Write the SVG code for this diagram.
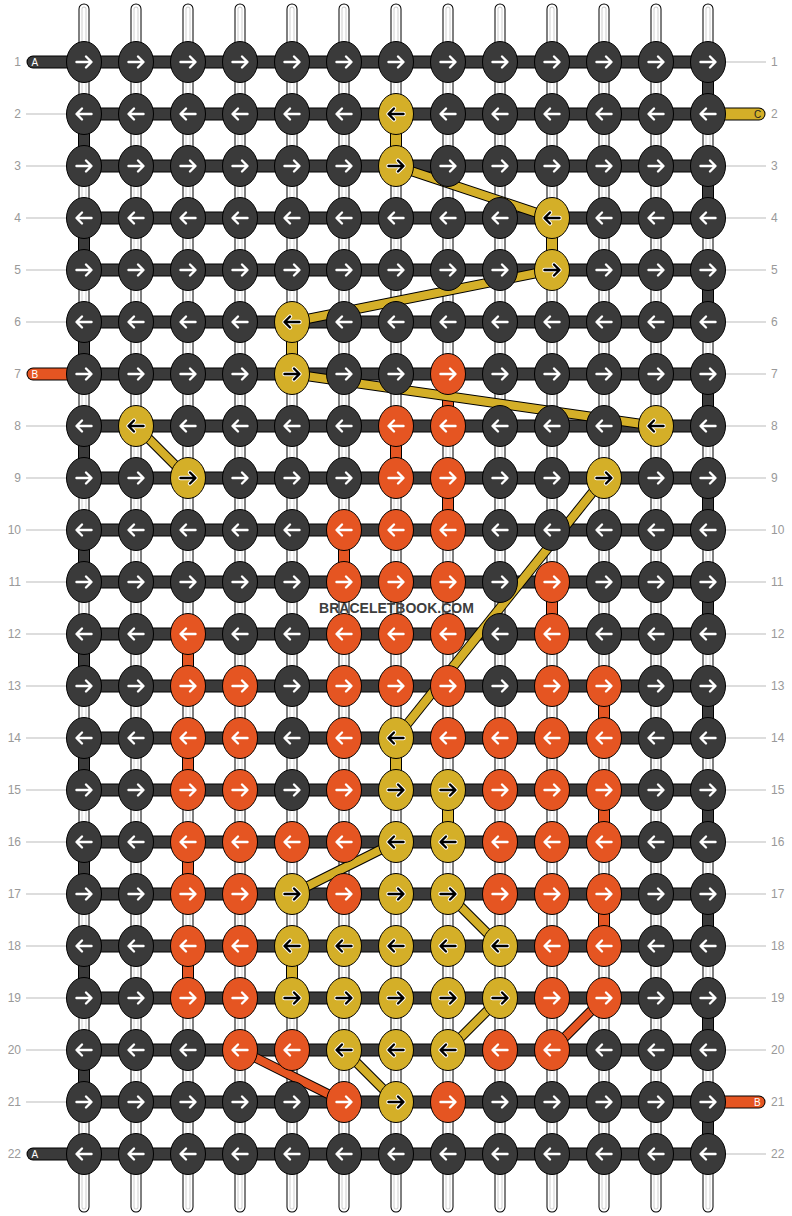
<svg xmlns="http://www.w3.org/2000/svg" xmlns:xlink="http://www.w3.org/1999/xlink" width="792" height="1216" viewBox="0 0 792 1216">
<style>
.lbl{font-family:"Liberation Sans",Arial,sans-serif;font-size:12px;fill:#999}
.ll{stroke:#bbb;stroke-width:1;fill:none}
.to{stroke:#000;stroke-width:11;stroke-linecap:round;fill:none}
.tw{stroke:#fff;stroke-width:9;stroke-linecap:round;fill:none}
.tg{stroke:#cfcfcf;stroke-width:5;stroke-linecap:round;fill:none}
.tc{stroke:#fff;stroke-width:3;stroke-linecap:round;fill:none}
.bo{stroke:#000;stroke-width:13;fill:none}
.bd{stroke:#3a3a3a;stroke-width:11;fill:none}
.lo{stroke:#000;stroke-width:13;stroke-linecap:round;fill:none}
.ld{stroke:#3a3a3a;stroke-width:11;stroke-linecap:round;fill:none}
.ly{stroke:#d4af28;stroke-width:11;stroke-linecap:round;fill:none}
.lor{stroke:#e55522;stroke-width:11;stroke-linecap:round;fill:none}
.tt{font-family:"Liberation Sans",Arial,sans-serif;font-size:10px;fill:#fff}
.vo{stroke:#000;stroke-width:12;fill:none}
.vd{stroke:#3a3a3a;stroke-width:10;fill:none}
.vy{stroke:#d4af28;stroke-width:10;fill:none}
.vr{stroke:#e55522;stroke-width:10;fill:none}
.do{stroke:#000;stroke-width:10;fill:none}
.dy{stroke:#d4af28;stroke-width:8;fill:none}
.dr{stroke:#e55522;stroke-width:8;fill:none}
.kd{fill:#3a3a3a;stroke:#000;stroke-width:1}
.ky{fill:#d4af28;stroke:#000;stroke-width:1}
.ko{fill:#e55522;stroke:#000;stroke-width:1}
.aw{fill:none;stroke:#fff;stroke-width:2.4;stroke-linecap:round;stroke-linejoin:round}
.ah{fill:none;stroke:#fff;stroke-width:4.4;stroke-linecap:round;stroke-linejoin:round}
.ab{fill:none;stroke:#000;stroke-width:2.4;stroke-linecap:round;stroke-linejoin:round}
.wm{font-family:"Liberation Sans",Arial,sans-serif;font-size:14px;font-weight:bold;fill:#3d3d3d}
</style>
<defs>
<path id="pR" d="M-7.5 0H7M2 -5.5L7.5 0L2 5.5"/>
<path id="pL" d="M7.5 0H-7M-2 -5.5L-7.5 0L-2 5.5"/>
<g id="dR"><ellipse class="kd" rx="17.5" ry="20.5"/><use href="#pR" class="aw"/></g>
<g id="dL"><ellipse class="kd" rx="17.5" ry="20.5"/><use href="#pL" class="aw"/></g>
<g id="oR"><ellipse class="ko" rx="17.5" ry="20.5"/><use href="#pR" class="aw"/></g>
<g id="oL"><ellipse class="ko" rx="17.5" ry="20.5"/><use href="#pL" class="aw"/></g>
<g id="yR"><ellipse class="ky" rx="17.5" ry="20.5"/><use href="#pR" class="ah"/><use href="#pR" class="ab"/></g>
<g id="yL"><ellipse class="ky" rx="17.5" ry="20.5"/><use href="#pL" class="ah"/><use href="#pL" class="ab"/></g>
</defs>
<rect width="792" height="1216" fill="#fff"/>
<g id="labels">
<path class="ll" d="M26 114H66M26 166H66M26 218H66M26 270H66M26 322H66M26 426H66M26 478H66M26 530H66M26 582H66M26 634H66M26 686H66M26 738H66M26 790H66M26 842H66M26 894H66M26 946H66M26 998H66M26 1050H66M26 1102H66"/>
<path class="ll" d="M726 62H766M726 166H766M726 218H766M726 270H766M726 322H766M726 374H766M726 426H766M726 478H766M726 530H766M726 582H766M726 634H766M726 686H766M726 738H766M726 790H766M726 842H766M726 894H766M726 946H766M726 998H766M726 1050H766M726 1154H766"/>
<g class="lbl" text-anchor="end">
<text x="21" y="66">1</text><text x="21" y="118">2</text><text x="21" y="170">3</text><text x="21" y="222">4</text><text x="21" y="274">5</text><text x="21" y="326">6</text><text x="21" y="378">7</text><text x="21" y="430">8</text><text x="21" y="482">9</text><text x="21" y="534">10</text><text x="21" y="586">11</text><text x="21" y="638">12</text><text x="21" y="690">13</text><text x="21" y="742">14</text><text x="21" y="794">15</text><text x="21" y="846">16</text><text x="21" y="898">17</text><text x="21" y="950">18</text><text x="21" y="1002">19</text><text x="21" y="1054">20</text><text x="21" y="1106">21</text><text x="21" y="1158">22</text>
</g>
<g class="lbl">
<text x="771" y="66">1</text><text x="771" y="118">2</text><text x="771" y="170">3</text><text x="771" y="222">4</text><text x="771" y="274">5</text><text x="771" y="326">6</text><text x="771" y="378">7</text><text x="771" y="430">8</text><text x="771" y="482">9</text><text x="771" y="534">10</text><text x="771" y="586">11</text><text x="771" y="638">12</text><text x="771" y="690">13</text><text x="771" y="742">14</text><text x="771" y="794">15</text><text x="771" y="846">16</text><text x="771" y="898">17</text><text x="771" y="950">18</text><text x="771" y="1002">19</text><text x="771" y="1054">20</text><text x="771" y="1106">21</text><text x="771" y="1158">22</text>
</g>
</g>
<g id="strings">
<path class="to" d="M84 9V1207M136 9V1207M188 9V1207M240 9V1207M292 9V1207M344 9V1207M396 9V1207M448 9V1207M500 9V1207M552 9V1207M604 9V1207M656 9V1207M708 9V1207"/>
<path class="tw" d="M84 9V1207M136 9V1207M188 9V1207M240 9V1207M292 9V1207M344 9V1207M396 9V1207M448 9V1207M500 9V1207M552 9V1207M604 9V1207M656 9V1207M708 9V1207"/>
<path class="tg" d="M84 9V1207M136 9V1207M188 9V1207M240 9V1207M292 9V1207M344 9V1207M396 9V1207M448 9V1207M500 9V1207M552 9V1207M604 9V1207M656 9V1207M708 9V1207"/>
<path class="tc" d="M84 9V1207M136 9V1207M188 9V1207M240 9V1207M292 9V1207M344 9V1207M396 9V1207M448 9V1207M500 9V1207M552 9V1207M604 9V1207M656 9V1207M708 9V1207"/>
</g>
<g id="rows">
<path class="bo" d="M84 62H708M84 114H708M84 166H708M84 218H708M84 270H708M84 322H708M84 374H708M84 426H708M84 478H708M84 530H708M84 582H708M84 634H708M84 686H708M84 738H708M84 790H708M84 842H708M84 894H708M84 946H708M84 998H708M84 1050H708M84 1102H708M84 1154H708"/>
<path class="bd" d="M84 62H708M84 114H708M84 166H708M84 218H708M84 270H708M84 322H708M84 374H708M84 426H708M84 478H708M84 530H708M84 582H708M84 634H708M84 686H708M84 738H708M84 790H708M84 842H708M84 894H708M84 946H708M84 998H708M84 1050H708M84 1102H708M84 1154H708"/>
</g>
<g id="tails">
<g id="tailA1"><path class="lo" d="M33 62H84"/><path class="ld" d="M33 62H84"/><text class="tt" x="31.5" y="65.5">A</text></g>
<g id="tailA22"><path class="lo" d="M33 1154H84"/><path class="ld" d="M33 1154H84"/><text class="tt" x="31.5" y="1157.5">A</text></g>
<g id="tailB7"><path class="lo" d="M33 374H84"/><path class="lor" d="M33 374H84"/><text class="tt" x="31.5" y="377.5">B</text></g>
<g id="tailC2"><path class="lo" d="M708 114H759"/><path class="ly" d="M708 114H759"/><text class="tt" x="754" y="117.5" style="fill:#222">C</text></g>
<g id="tailB21"><path class="lo" d="M708 1102H759"/><path class="lor" d="M708 1102H759"/><text class="tt" x="754" y="1105.5">B</text></g>
</g>
<g id="connectors">
<path class="vo" d="M708 62V114M708 166V218M708 270V322M708 374V426M708 478V530M708 582V634M708 686V738M708 790V842M708 894V946M708 998V1050M708 1102V1154M84 114V166M84 218V270M84 322V374M84 426V478M84 530V582M84 634V686M84 738V790M84 842V894M84 946V998M84 1050V1102"/>
<path class="vd" d="M708 62V114M708 166V218M708 270V322M708 374V426M708 478V530M708 582V634M708 686V738M708 790V842M708 894V946M708 998V1050M708 1102V1154M84 114V166M84 218V270M84 322V374M84 426V478M84 530V582M84 634V686M84 738V790M84 842V894M84 946V998M84 1050V1102"/>
<path class="vo" d="M396 114V166M552 218V270M292 322V374M396 738V790M448 790V842M292 946V998"/>
<path class="vy" d="M396 114V166M552 218V270M292 322V374M396 738V790M448 790V842M292 946V998"/>
<path class="vo" d="M448 374V426M396 426V478M448 478V530M344 530V582M552 582V634M188 634V686M604 686V738M188 738V790M604 790V842M188 842V894M604 894V946M188 946V998"/>
<path class="vr" d="M448 374V426M396 426V478M448 478V530M344 530V582M552 582V634M188 634V686M604 686V738M188 738V790M604 790V842M188 842V894M604 894V946M188 946V998"/>
<g><path class="do" d="M396 166L552 218"/><path class="dy" d="M396 166L552 218"/></g>
<g><path class="do" d="M552 270L292 322"/><path class="dy" d="M552 270L292 322"/></g>
<g><path class="do" d="M292 374L656 426"/><path class="dy" d="M292 374L656 426"/></g>
<g><path class="do" d="M136 426L188 478"/><path class="dy" d="M136 426L188 478"/></g>
<g><path class="do" d="M604 478L396 738"/><path class="dy" d="M604 478L396 738"/></g>
<g><path class="do" d="M396 842L292 894"/><path class="dy" d="M396 842L292 894"/></g>
<g><path class="do" d="M448 894L500 946"/><path class="dy" d="M448 894L500 946"/></g>
<g><path class="do" d="M500 998L448 1050"/><path class="dy" d="M500 998L448 1050"/></g>
<g><path class="do" d="M344 1050L396 1102"/><path class="dy" d="M344 1050L396 1102"/></g>
<g><path class="do" d="M604 998L552 1050"/><path class="dr" d="M604 998L552 1050"/></g>
<g><path class="do" d="M240 1050L344 1102"/><path class="dr" d="M240 1050L344 1102"/></g>
</g>
<g id="knots">
<g id="k1-1"><use href="#dR" x="84" y="62"/></g><g id="k1-2"><use href="#dR" x="136" y="62"/></g><g id="k1-3"><use href="#dR" x="188" y="62"/></g><g id="k1-4"><use href="#dR" x="240" y="62"/></g><g id="k1-5"><use href="#dR" x="292" y="62"/></g><g id="k1-6"><use href="#dR" x="344" y="62"/></g><g id="k1-7"><use href="#dR" x="396" y="62"/></g><g id="k1-8"><use href="#dR" x="448" y="62"/></g><g id="k1-9"><use href="#dR" x="500" y="62"/></g><g id="k1-10"><use href="#dR" x="552" y="62"/></g><g id="k1-11"><use href="#dR" x="604" y="62"/></g><g id="k1-12"><use href="#dR" x="656" y="62"/></g><g id="k1-13"><use href="#dR" x="708" y="62"/></g>
<g id="k2-1"><use href="#dL" x="84" y="114"/></g><g id="k2-2"><use href="#dL" x="136" y="114"/></g><g id="k2-3"><use href="#dL" x="188" y="114"/></g><g id="k2-4"><use href="#dL" x="240" y="114"/></g><g id="k2-5"><use href="#dL" x="292" y="114"/></g><g id="k2-6"><use href="#dL" x="344" y="114"/></g><g id="k2-7"><use href="#yL" x="396" y="114"/></g><g id="k2-8"><use href="#dL" x="448" y="114"/></g><g id="k2-9"><use href="#dL" x="500" y="114"/></g><g id="k2-10"><use href="#dL" x="552" y="114"/></g><g id="k2-11"><use href="#dL" x="604" y="114"/></g><g id="k2-12"><use href="#dL" x="656" y="114"/></g><g id="k2-13"><use href="#dL" x="708" y="114"/></g>
<g id="k3-1"><use href="#dR" x="84" y="166"/></g><g id="k3-2"><use href="#dR" x="136" y="166"/></g><g id="k3-3"><use href="#dR" x="188" y="166"/></g><g id="k3-4"><use href="#dR" x="240" y="166"/></g><g id="k3-5"><use href="#dR" x="292" y="166"/></g><g id="k3-6"><use href="#dR" x="344" y="166"/></g><g id="k3-7"><use href="#yR" x="396" y="166"/></g><g id="k3-8"><use href="#dR" x="448" y="166"/></g><g id="k3-9"><use href="#dR" x="500" y="166"/></g><g id="k3-10"><use href="#dR" x="552" y="166"/></g><g id="k3-11"><use href="#dR" x="604" y="166"/></g><g id="k3-12"><use href="#dR" x="656" y="166"/></g><g id="k3-13"><use href="#dR" x="708" y="166"/></g>
<g id="k4-1"><use href="#dL" x="84" y="218"/></g><g id="k4-2"><use href="#dL" x="136" y="218"/></g><g id="k4-3"><use href="#dL" x="188" y="218"/></g><g id="k4-4"><use href="#dL" x="240" y="218"/></g><g id="k4-5"><use href="#dL" x="292" y="218"/></g><g id="k4-6"><use href="#dL" x="344" y="218"/></g><g id="k4-7"><use href="#dL" x="396" y="218"/></g><g id="k4-8"><use href="#dL" x="448" y="218"/></g><g id="k4-9"><use href="#dL" x="500" y="218"/></g><g id="k4-10"><use href="#yL" x="552" y="218"/></g><g id="k4-11"><use href="#dL" x="604" y="218"/></g><g id="k4-12"><use href="#dL" x="656" y="218"/></g><g id="k4-13"><use href="#dL" x="708" y="218"/></g>
<g id="k5-1"><use href="#dR" x="84" y="270"/></g><g id="k5-2"><use href="#dR" x="136" y="270"/></g><g id="k5-3"><use href="#dR" x="188" y="270"/></g><g id="k5-4"><use href="#dR" x="240" y="270"/></g><g id="k5-5"><use href="#dR" x="292" y="270"/></g><g id="k5-6"><use href="#dR" x="344" y="270"/></g><g id="k5-7"><use href="#dR" x="396" y="270"/></g><g id="k5-8"><use href="#dR" x="448" y="270"/></g><g id="k5-9"><use href="#dR" x="500" y="270"/></g><g id="k5-10"><use href="#yR" x="552" y="270"/></g><g id="k5-11"><use href="#dR" x="604" y="270"/></g><g id="k5-12"><use href="#dR" x="656" y="270"/></g><g id="k5-13"><use href="#dR" x="708" y="270"/></g>
<g id="k6-1"><use href="#dL" x="84" y="322"/></g><g id="k6-2"><use href="#dL" x="136" y="322"/></g><g id="k6-3"><use href="#dL" x="188" y="322"/></g><g id="k6-4"><use href="#dL" x="240" y="322"/></g><g id="k6-5"><use href="#yL" x="292" y="322"/></g><g id="k6-6"><use href="#dL" x="344" y="322"/></g><g id="k6-7"><use href="#dL" x="396" y="322"/></g><g id="k6-8"><use href="#dL" x="448" y="322"/></g><g id="k6-9"><use href="#dL" x="500" y="322"/></g><g id="k6-10"><use href="#dL" x="552" y="322"/></g><g id="k6-11"><use href="#dL" x="604" y="322"/></g><g id="k6-12"><use href="#dL" x="656" y="322"/></g><g id="k6-13"><use href="#dL" x="708" y="322"/></g>
<g id="k7-1"><use href="#dR" x="84" y="374"/></g><g id="k7-2"><use href="#dR" x="136" y="374"/></g><g id="k7-3"><use href="#dR" x="188" y="374"/></g><g id="k7-4"><use href="#dR" x="240" y="374"/></g><g id="k7-5"><use href="#yR" x="292" y="374"/></g><g id="k7-6"><use href="#dR" x="344" y="374"/></g><g id="k7-7"><use href="#dR" x="396" y="374"/></g><g id="k7-8"><use href="#oR" x="448" y="374"/></g><g id="k7-9"><use href="#dR" x="500" y="374"/></g><g id="k7-10"><use href="#dR" x="552" y="374"/></g><g id="k7-11"><use href="#dR" x="604" y="374"/></g><g id="k7-12"><use href="#dR" x="656" y="374"/></g><g id="k7-13"><use href="#dR" x="708" y="374"/></g>
<g id="k8-1"><use href="#dL" x="84" y="426"/></g><g id="k8-2"><use href="#yL" x="136" y="426"/></g><g id="k8-3"><use href="#dL" x="188" y="426"/></g><g id="k8-4"><use href="#dL" x="240" y="426"/></g><g id="k8-5"><use href="#dL" x="292" y="426"/></g><g id="k8-6"><use href="#dL" x="344" y="426"/></g><g id="k8-7"><use href="#oL" x="396" y="426"/></g><g id="k8-8"><use href="#oL" x="448" y="426"/></g><g id="k8-9"><use href="#dL" x="500" y="426"/></g><g id="k8-10"><use href="#dL" x="552" y="426"/></g><g id="k8-11"><use href="#dL" x="604" y="426"/></g><g id="k8-12"><use href="#yL" x="656" y="426"/></g><g id="k8-13"><use href="#dL" x="708" y="426"/></g>
<g id="k9-1"><use href="#dR" x="84" y="478"/></g><g id="k9-2"><use href="#dR" x="136" y="478"/></g><g id="k9-3"><use href="#yR" x="188" y="478"/></g><g id="k9-4"><use href="#dR" x="240" y="478"/></g><g id="k9-5"><use href="#dR" x="292" y="478"/></g><g id="k9-6"><use href="#dR" x="344" y="478"/></g><g id="k9-7"><use href="#oR" x="396" y="478"/></g><g id="k9-8"><use href="#oR" x="448" y="478"/></g><g id="k9-9"><use href="#dR" x="500" y="478"/></g><g id="k9-10"><use href="#dR" x="552" y="478"/></g><g id="k9-11"><use href="#yR" x="604" y="478"/></g><g id="k9-12"><use href="#dR" x="656" y="478"/></g><g id="k9-13"><use href="#dR" x="708" y="478"/></g>
<g id="k10-1"><use href="#dL" x="84" y="530"/></g><g id="k10-2"><use href="#dL" x="136" y="530"/></g><g id="k10-3"><use href="#dL" x="188" y="530"/></g><g id="k10-4"><use href="#dL" x="240" y="530"/></g><g id="k10-5"><use href="#dL" x="292" y="530"/></g><g id="k10-6"><use href="#oL" x="344" y="530"/></g><g id="k10-7"><use href="#oL" x="396" y="530"/></g><g id="k10-8"><use href="#oL" x="448" y="530"/></g><g id="k10-9"><use href="#dL" x="500" y="530"/></g><g id="k10-10"><use href="#dL" x="552" y="530"/></g><g id="k10-11"><use href="#dL" x="604" y="530"/></g><g id="k10-12"><use href="#dL" x="656" y="530"/></g><g id="k10-13"><use href="#dL" x="708" y="530"/></g>
<g id="k11-1"><use href="#dR" x="84" y="582"/></g><g id="k11-2"><use href="#dR" x="136" y="582"/></g><g id="k11-3"><use href="#dR" x="188" y="582"/></g><g id="k11-4"><use href="#dR" x="240" y="582"/></g><g id="k11-5"><use href="#dR" x="292" y="582"/></g><g id="k11-6"><use href="#oR" x="344" y="582"/></g><g id="k11-7"><use href="#oR" x="396" y="582"/></g><g id="k11-8"><use href="#oR" x="448" y="582"/></g><g id="k11-9"><use href="#dR" x="500" y="582"/></g><g id="k11-10"><use href="#oR" x="552" y="582"/></g><g id="k11-11"><use href="#dR" x="604" y="582"/></g><g id="k11-12"><use href="#dR" x="656" y="582"/></g><g id="k11-13"><use href="#dR" x="708" y="582"/></g>
<g id="k12-1"><use href="#dL" x="84" y="634"/></g><g id="k12-2"><use href="#dL" x="136" y="634"/></g><g id="k12-3"><use href="#oL" x="188" y="634"/></g><g id="k12-4"><use href="#dL" x="240" y="634"/></g><g id="k12-5"><use href="#dL" x="292" y="634"/></g><g id="k12-6"><use href="#oL" x="344" y="634"/></g><g id="k12-7"><use href="#oL" x="396" y="634"/></g><g id="k12-8"><use href="#oL" x="448" y="634"/></g><g id="k12-9"><use href="#dL" x="500" y="634"/></g><g id="k12-10"><use href="#oL" x="552" y="634"/></g><g id="k12-11"><use href="#dL" x="604" y="634"/></g><g id="k12-12"><use href="#dL" x="656" y="634"/></g><g id="k12-13"><use href="#dL" x="708" y="634"/></g>
<g id="k13-1"><use href="#dR" x="84" y="686"/></g><g id="k13-2"><use href="#dR" x="136" y="686"/></g><g id="k13-3"><use href="#oR" x="188" y="686"/></g><g id="k13-4"><use href="#oR" x="240" y="686"/></g><g id="k13-5"><use href="#dR" x="292" y="686"/></g><g id="k13-6"><use href="#oR" x="344" y="686"/></g><g id="k13-7"><use href="#oR" x="396" y="686"/></g><g id="k13-8"><use href="#oR" x="448" y="686"/></g><g id="k13-9"><use href="#dR" x="500" y="686"/></g><g id="k13-10"><use href="#oR" x="552" y="686"/></g><g id="k13-11"><use href="#oR" x="604" y="686"/></g><g id="k13-12"><use href="#dR" x="656" y="686"/></g><g id="k13-13"><use href="#dR" x="708" y="686"/></g>
<g id="k14-1"><use href="#dL" x="84" y="738"/></g><g id="k14-2"><use href="#dL" x="136" y="738"/></g><g id="k14-3"><use href="#oL" x="188" y="738"/></g><g id="k14-4"><use href="#oL" x="240" y="738"/></g><g id="k14-5"><use href="#dL" x="292" y="738"/></g><g id="k14-6"><use href="#oL" x="344" y="738"/></g><g id="k14-7"><use href="#yL" x="396" y="738"/></g><g id="k14-8"><use href="#oL" x="448" y="738"/></g><g id="k14-9"><use href="#oL" x="500" y="738"/></g><g id="k14-10"><use href="#oL" x="552" y="738"/></g><g id="k14-11"><use href="#oL" x="604" y="738"/></g><g id="k14-12"><use href="#dL" x="656" y="738"/></g><g id="k14-13"><use href="#dL" x="708" y="738"/></g>
<g id="k15-1"><use href="#dR" x="84" y="790"/></g><g id="k15-2"><use href="#dR" x="136" y="790"/></g><g id="k15-3"><use href="#oR" x="188" y="790"/></g><g id="k15-4"><use href="#oR" x="240" y="790"/></g><g id="k15-5"><use href="#dR" x="292" y="790"/></g><g id="k15-6"><use href="#oR" x="344" y="790"/></g><g id="k15-7"><use href="#yR" x="396" y="790"/></g><g id="k15-8"><use href="#yR" x="448" y="790"/></g><g id="k15-9"><use href="#oR" x="500" y="790"/></g><g id="k15-10"><use href="#oR" x="552" y="790"/></g><g id="k15-11"><use href="#oR" x="604" y="790"/></g><g id="k15-12"><use href="#dR" x="656" y="790"/></g><g id="k15-13"><use href="#dR" x="708" y="790"/></g>
<g id="k16-1"><use href="#dL" x="84" y="842"/></g><g id="k16-2"><use href="#dL" x="136" y="842"/></g><g id="k16-3"><use href="#oL" x="188" y="842"/></g><g id="k16-4"><use href="#oL" x="240" y="842"/></g><g id="k16-5"><use href="#oL" x="292" y="842"/></g><g id="k16-6"><use href="#oL" x="344" y="842"/></g><g id="k16-7"><use href="#yL" x="396" y="842"/></g><g id="k16-8"><use href="#yL" x="448" y="842"/></g><g id="k16-9"><use href="#oL" x="500" y="842"/></g><g id="k16-10"><use href="#oL" x="552" y="842"/></g><g id="k16-11"><use href="#oL" x="604" y="842"/></g><g id="k16-12"><use href="#dL" x="656" y="842"/></g><g id="k16-13"><use href="#dL" x="708" y="842"/></g>
<g id="k17-1"><use href="#dR" x="84" y="894"/></g><g id="k17-2"><use href="#dR" x="136" y="894"/></g><g id="k17-3"><use href="#oR" x="188" y="894"/></g><g id="k17-4"><use href="#oR" x="240" y="894"/></g><g id="k17-5"><use href="#yR" x="292" y="894"/></g><g id="k17-6"><use href="#oR" x="344" y="894"/></g><g id="k17-7"><use href="#yR" x="396" y="894"/></g><g id="k17-8"><use href="#yR" x="448" y="894"/></g><g id="k17-9"><use href="#oR" x="500" y="894"/></g><g id="k17-10"><use href="#oR" x="552" y="894"/></g><g id="k17-11"><use href="#oR" x="604" y="894"/></g><g id="k17-12"><use href="#dR" x="656" y="894"/></g><g id="k17-13"><use href="#dR" x="708" y="894"/></g>
<g id="k18-1"><use href="#dL" x="84" y="946"/></g><g id="k18-2"><use href="#dL" x="136" y="946"/></g><g id="k18-3"><use href="#oL" x="188" y="946"/></g><g id="k18-4"><use href="#oL" x="240" y="946"/></g><g id="k18-5"><use href="#yL" x="292" y="946"/></g><g id="k18-6"><use href="#yL" x="344" y="946"/></g><g id="k18-7"><use href="#yL" x="396" y="946"/></g><g id="k18-8"><use href="#yL" x="448" y="946"/></g><g id="k18-9"><use href="#yL" x="500" y="946"/></g><g id="k18-10"><use href="#oL" x="552" y="946"/></g><g id="k18-11"><use href="#oL" x="604" y="946"/></g><g id="k18-12"><use href="#dL" x="656" y="946"/></g><g id="k18-13"><use href="#dL" x="708" y="946"/></g>
<g id="k19-1"><use href="#dR" x="84" y="998"/></g><g id="k19-2"><use href="#dR" x="136" y="998"/></g><g id="k19-3"><use href="#oR" x="188" y="998"/></g><g id="k19-4"><use href="#oR" x="240" y="998"/></g><g id="k19-5"><use href="#yR" x="292" y="998"/></g><g id="k19-6"><use href="#yR" x="344" y="998"/></g><g id="k19-7"><use href="#yR" x="396" y="998"/></g><g id="k19-8"><use href="#yR" x="448" y="998"/></g><g id="k19-9"><use href="#yR" x="500" y="998"/></g><g id="k19-10"><use href="#oR" x="552" y="998"/></g><g id="k19-11"><use href="#oR" x="604" y="998"/></g><g id="k19-12"><use href="#dR" x="656" y="998"/></g><g id="k19-13"><use href="#dR" x="708" y="998"/></g>
<g id="k20-1"><use href="#dL" x="84" y="1050"/></g><g id="k20-2"><use href="#dL" x="136" y="1050"/></g><g id="k20-3"><use href="#dL" x="188" y="1050"/></g><g id="k20-4"><use href="#oL" x="240" y="1050"/></g><g id="k20-5"><use href="#oL" x="292" y="1050"/></g><g id="k20-6"><use href="#yL" x="344" y="1050"/></g><g id="k20-7"><use href="#yL" x="396" y="1050"/></g><g id="k20-8"><use href="#yL" x="448" y="1050"/></g><g id="k20-9"><use href="#oL" x="500" y="1050"/></g><g id="k20-10"><use href="#oL" x="552" y="1050"/></g><g id="k20-11"><use href="#dL" x="604" y="1050"/></g><g id="k20-12"><use href="#dL" x="656" y="1050"/></g><g id="k20-13"><use href="#dL" x="708" y="1050"/></g>
<g id="k21-1"><use href="#dR" x="84" y="1102"/></g><g id="k21-2"><use href="#dR" x="136" y="1102"/></g><g id="k21-3"><use href="#dR" x="188" y="1102"/></g><g id="k21-4"><use href="#dR" x="240" y="1102"/></g><g id="k21-5"><use href="#dR" x="292" y="1102"/></g><g id="k21-6"><use href="#oR" x="344" y="1102"/></g><g id="k21-7"><use href="#yR" x="396" y="1102"/></g><g id="k21-8"><use href="#oR" x="448" y="1102"/></g><g id="k21-9"><use href="#dR" x="500" y="1102"/></g><g id="k21-10"><use href="#dR" x="552" y="1102"/></g><g id="k21-11"><use href="#dR" x="604" y="1102"/></g><g id="k21-12"><use href="#dR" x="656" y="1102"/></g><g id="k21-13"><use href="#dR" x="708" y="1102"/></g>
<g id="k22-1"><use href="#dL" x="84" y="1154"/></g><g id="k22-2"><use href="#dL" x="136" y="1154"/></g><g id="k22-3"><use href="#dL" x="188" y="1154"/></g><g id="k22-4"><use href="#dL" x="240" y="1154"/></g><g id="k22-5"><use href="#dL" x="292" y="1154"/></g><g id="k22-6"><use href="#dL" x="344" y="1154"/></g><g id="k22-7"><use href="#dL" x="396" y="1154"/></g><g id="k22-8"><use href="#dL" x="448" y="1154"/></g><g id="k22-9"><use href="#dL" x="500" y="1154"/></g><g id="k22-10"><use href="#dL" x="552" y="1154"/></g><g id="k22-11"><use href="#dL" x="604" y="1154"/></g><g id="k22-12"><use href="#dL" x="656" y="1154"/></g><g id="k22-13"><use href="#dL" x="708" y="1154"/></g>
</g>
<text id="watermark" class="wm" x="396.5" y="613" text-anchor="middle">BRACELETBOOK.COM</text>
</svg>
